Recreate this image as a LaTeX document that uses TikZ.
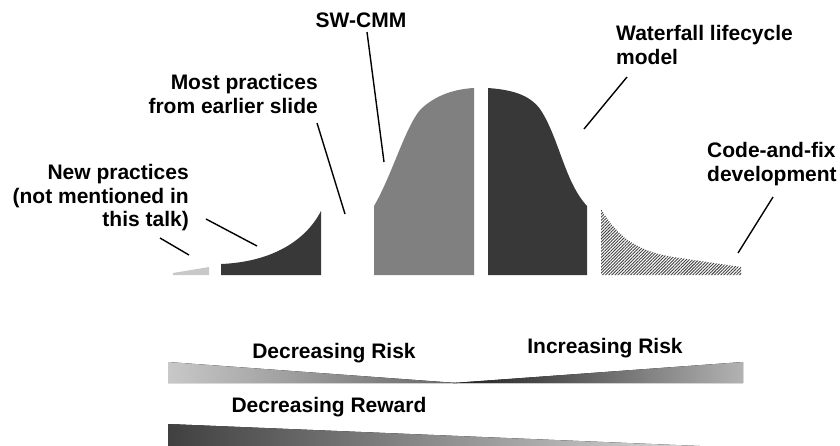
\documentclass[tikz,border=0pt]{standalone}
\usepackage{fontspec}
\setmainfont{Liberation Sans}
\usepackage{tikz}
\usetikzlibrary{patterns.meta}
\definecolor{darkseg}{RGB}{56, 56, 56}
\definecolor{midseg}{RGB}{128, 128, 128}
\definecolor{lightseg}{RGB}{200, 200, 200}

\begin{document}
\begin{tikzpicture}[x=1pt, y=-1pt,
    lbl/.style={inner sep=0pt, font=\fontsize{21}{23.5}\selectfont\bfseries},
    leader/.style={draw=black, line width=1.4pt},
    hatched/.style={pattern={Lines[angle=45, distance=2.2pt, line width=0.9pt]}, pattern color=black!75}]
  \fill[white] (0,0) rectangle (840,445);
  \useasboundingbox (0,0) rectangle (840,445);

  % distribution of practices
  \fill[lightseg] (173,275) -- (173,273) -- (209,267) -- (209,275) -- cycle;
  \fill[darkseg] (221,275) -- (221,264) .. controls (270,262) and (305,242) .. (321,211) -- (321,275) -- cycle;
  \fill[midseg] (374,275) -- (374,206) .. controls (392,175) and (405,128) .. (420,110)
    .. controls (435,95) and (455,89) .. (474,88) -- (474,275) -- cycle;
  \fill[darkseg] (488,275) -- (488,88) .. controls (515,90) and (532,96) .. (542,112)
    .. controls (560,142) and (565,182) .. (587,206) -- (587,275) -- cycle;
  \fill[hatched] (601,275) -- (601,209)
    .. controls (615,232) and (632,252) .. (680,258) -- (741,267) -- (741,275) -- cycle;

  % labels
  \node[lbl, anchor=east, align=right] (newprac) at (189,198) {New practices\\(not mentioned in\\this talk)};
  \node[lbl, anchor=east, align=right] (mostprac) at (318,94) {Most practices\\from earlier slide};
  \node[lbl] (swcmm) at (361,20) {SW-CMM};
  \node[lbl, anchor=west, align=left] (waterfall) at (616,45) {Waterfall lifecycle\\model};
  \node[lbl, anchor=west, align=left] (codefix) at (707,164) {Code-and-fix\\development};

  % leader lines
  \coordinate (newA) at (160,238);
  \coordinate (newAend) at (189,255);
  \coordinate (newB) at (206,219);
  \coordinate (newBend) at (257,246);
  \coordinate (mostA) at (317,123);
  \coordinate (mostAend) at (345,214);
  \coordinate (swA) at (367,32);
  \coordinate (swAend) at (384,162);
  \coordinate (wfA) at (627,77);
  \coordinate (wfAend) at (584,129);
  \coordinate (cfA) at (773,197);
  \coordinate (cfAend) at (738,253);
  \draw[leader] (newA) -- (newAend);
  \draw[leader] (newB) -- (newBend);
  \draw[leader] (mostA) -- (mostAend);
  \draw[leader] (swA) -- (swAend);
  \draw[leader] (wfA) -- (wfAend);
  \draw[leader] (cfA) -- (cfAend);

  % risk and reward wedges
  \fill[left color=lightseg, right color=black!60] (168,362) -- (457,383) -- (168,383) -- cycle;
  \fill[left color=black!88, right color=black!30] (453,383) -- (743,362) -- (743,383) -- cycle;
  \fill[left color=black!75, right color=black!15] (168,424) -- (700,446) -- (168,446) -- cycle;
  \node[lbl] (decrisk) at (334,353) {Decreasing Risk};
  \node[lbl] (incrisk) at (605,348) {Increasing Risk};
  \node[lbl] (decreward) at (329,407) {Decreasing Reward};
\end{tikzpicture}
\end{document}
